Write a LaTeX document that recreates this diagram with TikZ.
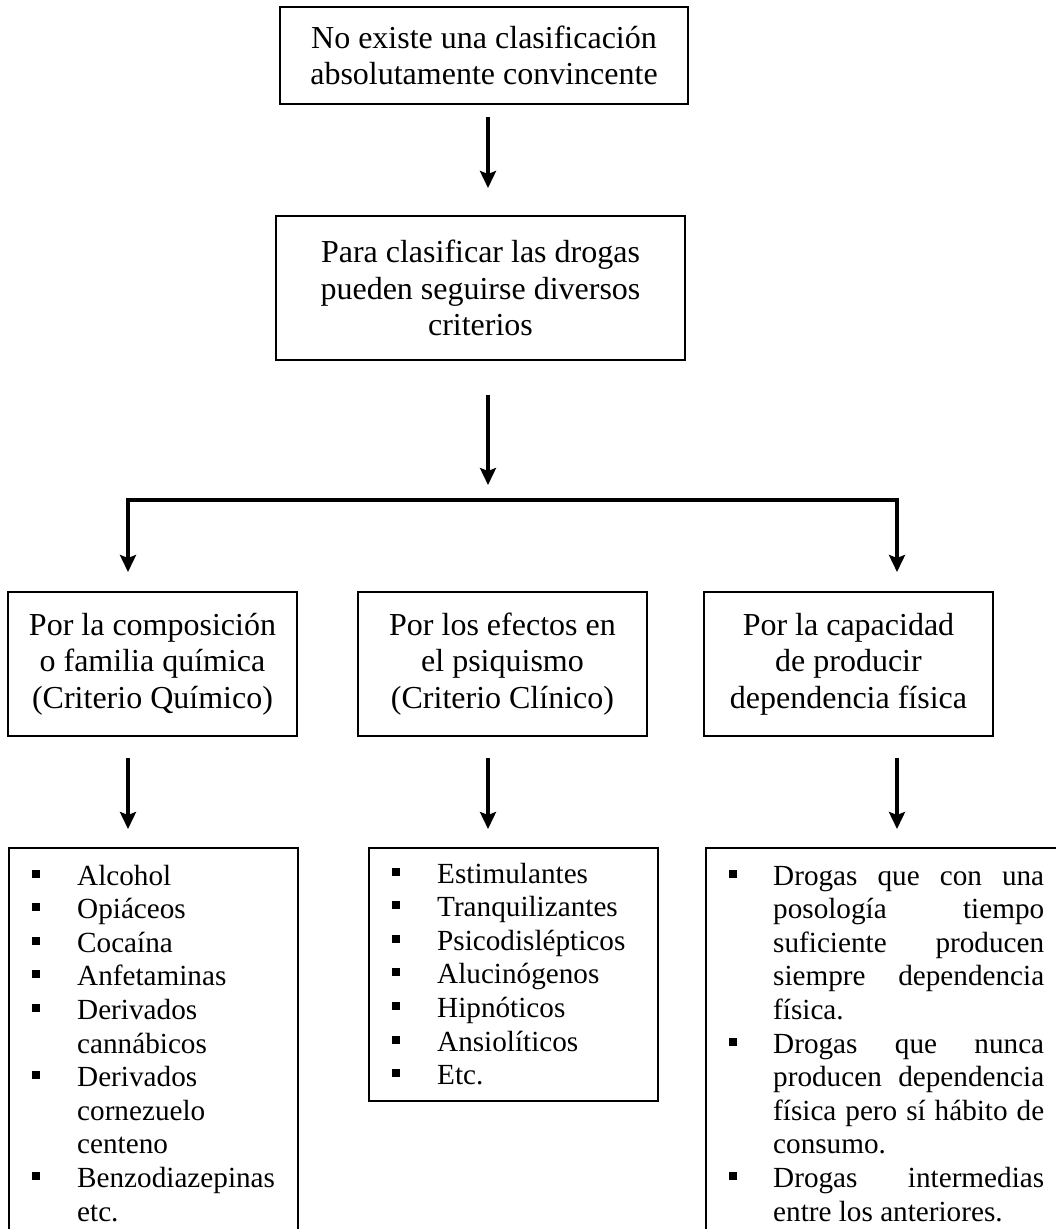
\documentclass[tikz,border=0pt]{standalone}
\usepackage{fontspec}
\setmainfont{Liberation Serif}
\usetikzlibrary{arrows.meta}
\newcommand\jline[1]{\makebox[271pt][s]{#1}}
\begin{document}
\begin{tikzpicture}[x=1pt,y=-1pt,
  box/.style={draw, line width=1.8pt, inner sep=0pt, align=center,
    font=\fontsize{32}{36.5}\selectfont},
  frame/.style={draw, line width=1.8pt, inner sep=0pt, anchor=north west},
  conn/.style={line width=4.8pt, line join=miter, -{Stealth[length=17pt,width=16pt,inset=3pt]}},
  ln/.style={anchor=base west, inner sep=0pt, font=\fontsize{29.2}{33.6}\selectfont},
  bul/.style={fill=black, minimum size=8pt, inner sep=0pt}]
\useasboundingbox (0,0) rectangle (1056,1229);
\clip (0,0) rectangle (1056,1229);
\fill[white] (0,0) rectangle (1056,1229);

% top boxes
\node[box, minimum width=408pt, minimum height=97pt] (b1) at (484,55.5)
  {No existe una clasificación\\absolutamente convincente};
\node[box, minimum width=409pt, minimum height=144pt] (b2) at (480.5,288)
  {Para clasificar las drogas\\pueden seguirse diversos\\criterios};

% middle level
\node[box, minimum width=289pt, minimum height=144pt] (c1) at (152.5,664)
  {Por la composición\\o familia química\\(Criterio Químico)};
\node[box, minimum width=289pt, minimum height=144pt] (c2) at (502.5,664)
  {Por los efectos en\\el psiquismo\\(Criterio Clínico)};
\node[box, minimum width=289pt, minimum height=144pt] (c3) at (848.5,664)
  {Por la capacidad\\de producir\\dependencia física};

% bottom frames
\node[frame, minimum width=289pt, minimum height=460pt] (d1) at (8,847) {};
\node[frame, minimum width=289pt, minimum height=253pt] (d2) at (368,847) {};
\node[frame, minimum width=420pt, minimum height=460pt] (d3) at (705,847) {};

% connector coordinates
\coordinate (a1s) at (488,117);
\coordinate (a1e) at (488,188);
\coordinate (a2s) at (488,395);
\coordinate (a2e) at (488,485);
\coordinate (hl) at (128,500);
\coordinate (hr) at (897,500);
\coordinate (hle) at (128,572);
\coordinate (hre) at (897,572);
\coordinate (l1s) at (128,758);
\coordinate (l1e) at (128,829);
\coordinate (l2s) at (488,758);
\coordinate (l2e) at (488,829);
\coordinate (l3s) at (897,758);
\coordinate (l3e) at (897,829);

\draw[conn] (a1s) -- (a1e);
\draw[conn] (a2s) -- (a2e);
\draw[conn, {Stealth[length=17pt,width=16pt,inset=3pt]}-{Stealth[length=17pt,width=16pt,inset=3pt]}]
  (hle) -- (hl) -- (hr) -- (hre);
\draw[conn] (l1s) -- (l1e);
\draw[conn] (l2s) -- (l2e);
\draw[conn] (l3s) -- (l3e);

% left list
\foreach \t/\b [count=\i] in {Alcohol/1, Opiáceos/1, Cocaína/1, Anfetaminas/1,
  Derivados/1, cannábicos/0, Derivados/1, cornezuelo/0, centeno/0,
  Benzodiazepinas/1, etc./0}{
  \pgfmathsetmacro\yy{885+(\i-1)*33.6}
  \node[ln] (L\i) at (77,\yy) {\t};
  \ifnum\b=1 \node[bul] (LB\i) at (35.5,{\yy-11.5}) {};\fi
}

% middle list
\foreach \t [count=\i] in {Estimulantes, Tranquilizantes, Psicodislépticos,
  Alucinógenos, Hipnóticos, Ansiolíticos, Etc.}{
  \pgfmathsetmacro\yy{883+(\i-1)*33.6}
  \node[ln] (M\i) at (437,\yy) {\t};
  \node[bul] (MB\i) at (396,{\yy-11.5}) {};
}

% right list
\foreach \t/\b [count=\i] in {\jline{Drogas que con una}/1, \jline{posología tiempo}/0,
  \jline{suficiente producen}/0, \jline{siempre dependencia}/0, física./0,
  \jline{Drogas que nunca}/1, \jline{producen dependencia}/0,
  \jline{física pero sí hábito de}/0, consumo./0,
  \jline{Drogas intermedias}/1, entre los anteriores./0}{
  \pgfmathsetmacro\yy{885+(\i-1)*33.6}
  \node[ln] (R\i) at (773,\yy) {\t};
  \ifnum\b=1 \node[bul] (RB\i) at (732.5,{\yy-11.5}) {};\fi
}
\end{tikzpicture}
\end{document}
